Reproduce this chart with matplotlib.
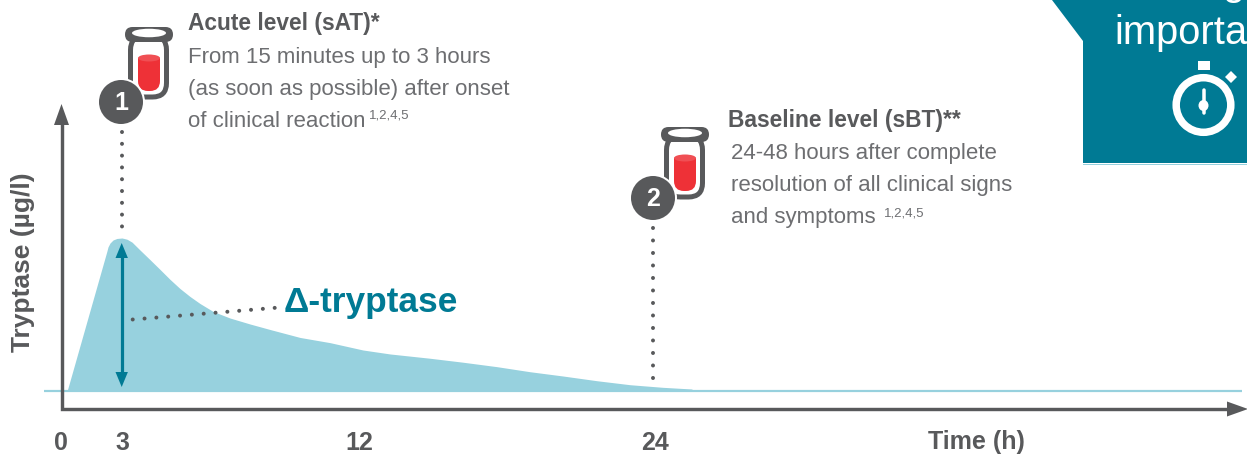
import numpy as np
import matplotlib
matplotlib.use("Agg")
import matplotlib.pyplot as plt
from matplotlib.patches import Circle, Ellipse, FancyBboxPatch, Polygon, Rectangle

plt.rcParams['font.family'] = ['Liberation Sans', 'DejaVu Sans']

# ---- data -------------------------------------------------------------
time_h = [0.3, 2.26, 2.31, 2.41, 2.56, 2.75, 3.0, 3.19, 3.38, 3.68, 4.06, 4.44, 4.82, 5.20, 5.58,
          5.96, 6.46, 7.10, 7.86, 8.62, 9.76, 10.9, 12.16, 13.26, 14.88, 16.22, 17.59, 18.93,
          20.27, 21.65, 22.99, 24.32, 25.5]
tryptase = [0, 91.5, 94.1, 96.7, 98.7, 99.7, 100, 99.2, 97.3, 92.2, 85.9, 79.5, 73.0, 67.0, 61.8,
            57.2, 52.0, 47.7, 43.8, 40.2, 35.0, 31.6, 26.8, 24.2, 21.4, 18.8, 15.9, 12.6,
            9.8, 6.7, 4.1, 2.4, 1.3]
tick_hours = [0, 3, 12, 24]
tick_labels = ['0', '3', '12', '24']
acute_lines = ['From 15 minutes up to 3 hours', '(as soon as possible) after onset', 'of clinical reaction']
base_lines = ['24-48 hours after complete', 'resolution of all clinical signs', 'and symptoms']

GRAY = '#58595b'
TXT = '#6d6e71'
BOLD = '#58595b'
TEAL = '#007a94'
AREA = '#97d1de'
RED = '#ee3137'
W, H = 1247, 454

fig = plt.figure(figsize=(W / 100, H / 100), dpi=100)

def forward(t):
    t = np.asarray(t, dtype=float)
    return np.where(t <= 3, 61 + t * 61 / 3,
                    np.where(t <= 12, 122 + (t - 3) * 237 / 9, 359 + (t - 12) * 296 / 12))
def inverse(p):
    p = np.asarray(p, dtype=float)
    return np.where(p <= 122, (p - 61) * 3 / 61,
                    np.where(p <= 359, 3 + (p - 122) * 9 / 237, 12 + (p - 359) * 12 / 296))

ax = fig.add_axes([0, 0, 1, 1])
ax.set_xscale('function', functions=(forward, inverse))
ax.set_xlim(float(inverse(0)), float(inverse(W)))
PX_PER_UNIT = 1.53
ax.set_ylim(-(H - 391) / PX_PER_UNIT, 391 / PX_PER_UNIT)
ax.axis('off')
ax.fill_between(time_h, tryptase, 0, color=AREA, lw=0, zorder=2)

px = fig.add_axes([0, 0, 1, 1], zorder=3)
px.set_xlim(0, W)
px.set_ylim(H, 0)
px.axis('off')
px.patch.set_alpha(0)

def lw(p):
    return p * 0.72

px.plot([44, 1242], [391, 391], color=AREA, lw=lw(2.2), solid_capstyle='butt')

px.plot([62, 62, 1232], [122, 409, 409], color=GRAY, lw=lw(3.4), solid_joinstyle='miter', solid_capstyle='butt')
px.add_patch(Polygon([[61.5, 104], [54, 125], [69, 125]], closed=True, fc=GRAY, ec='none'))
px.add_patch(Polygon([[1248, 409], [1227, 401.5], [1227, 416.5]], closed=True, fc=GRAY, ec='none'))

for h, lab in zip(tick_hours, tick_labels):
    px.text(float(forward(h)), 449.5, lab, ha='center', va='baseline', fontsize=18, fontweight='bold', color=BOLD)
px.text(976.5, 449.5, 'Time (h)', ha='center', va='baseline', fontsize=18, fontweight='bold', color=BOLD)
px.text(23, 262, 'Tryptase (µg/l)', rotation=90, ha='center', va='center', fontsize=19, fontweight='bold', color=BOLD)

# delta arrow
px.plot([121.7, 121.7], [256, 374], color=TEAL, lw=lw(3.2), solid_capstyle='butt')
px.add_patch(Polygon([[121.7, 243], [115.5, 258], [127.9, 258]], closed=True, fc=TEAL, ec='none'))
px.add_patch(Polygon([[121.7, 387], [115.5, 372], [127.9, 372]], closed=True, fc=TEAL, ec='none'))

def dotted(x0, y0, x1, y1, step):
    px.plot([x0, x1], [y0, y1], color=GRAY, lw=lw(4), dash_capstyle='round',
            linestyle=(0, (0.01, step / 4 - 0.01)))

dotted(121.7, 132.3, 121.7, 228, 11.8)
dotted(653, 378, 653, 226, 12.5)
dotted(132.7, 319.5, 275.5, 307.8, 11.87)

px.text(284, 312, 'Δ-tryptase', ha='left', va='baseline', fontsize=25.4, fontweight='bold', color=TEAL)

def vial(dx, dy, cx, cy, num):
    px.add_patch(FancyBboxPatch((dx + 130.5, dy + 36), 36, 61, boxstyle='round,pad=0,rounding_size=14',
                                fc='white', ec=GRAY, lw=lw(5), zorder=4))
    px.add_patch(FancyBboxPatch((dx + 138, dy + 62), 22, 29, boxstyle='round,pad=0,rounding_size=10',
                                fc=RED, ec='none', zorder=5))
    px.add_patch(Rectangle((dx + 138, dy + 58), 22, 16, fc=RED, ec='none', zorder=5))
    px.add_patch(Ellipse((dx + 149, dy + 58), 22, 7, fc='#f04f54', ec='none', zorder=5))
    px.add_patch(FancyBboxPatch((dx + 125, dy + 27), 48, 15, boxstyle='round,pad=0,rounding_size=7.5',
                                fc=GRAY, ec='none', zorder=6))
    px.add_patch(Ellipse((dx + 149, dy + 33), 34, 8.5, fc='white', ec='none', zorder=7))
    px.add_patch(Circle((cx, cy), 24, fc='white', ec='none', zorder=8))
    px.add_patch(Circle((cx, cy), 22, fc=GRAY, ec='none', zorder=9))
    px.text(cx, cy + 0.5, num, ha='center', va='center', fontsize=18, fontweight='bold', color='white', zorder=10)

vial(0, 0, 121, 102, '1')
vial(536, 100, 653, 198, '2')

px.text(188, 30, 'Acute level (sAT)*', fontsize=16.4, fontweight='bold', color=BOLD, va='baseline')
for y, s in zip([63, 95, 127], acute_lines):
    px.text(188, y, s, fontsize=16, color=TXT, va='baseline')
px.text(369, 119, '1,2,4,5', fontsize=9.5, color=TXT, va='baseline')

px.text(728, 127, 'Baseline level (sBT)**', fontsize=16.4, fontweight='bold', color=BOLD, va='baseline')
for y, s in zip([159, 191, 223], base_lines):
    px.text(731, y, s, fontsize=16, color=TXT, va='baseline')
px.text(884, 216, '1,2,4,5', fontsize=9.5, color=TXT, va='baseline')

px.add_patch(Polygon([[1052, 0], [1083, 41], [1083, 163], [W, 163], [W, 0]], closed=True, fc=TEAL, ec='none', zorder=1))
px.plot([1083, W], [163.5, 163.5], color=AREA, lw=lw(1), zorder=1)
px.text(1114, 43.5, 'importa', fontsize=28.7, color='white', va='baseline', zorder=2, clip_on=True)
px.text(1222, -5, 'g', fontsize=28.7, color='white', va='baseline', zorder=2, clip_on=True)

px.add_patch(Circle((1203.5, 105), 27.3, fc='none', ec='white', lw=lw(7.5), zorder=2))
px.add_patch(Rectangle((1198, 61), 12, 9, fc='white', ec='none', zorder=2))
px.add_patch(Polygon([[1231, 71], [1237, 77], [1231, 83], [1225, 77]], closed=True, fc='white', ec='none', zorder=2))
px.plot([1203.5, 1203.5], [90, 113], color='white', lw=lw(3.5), solid_capstyle='round', zorder=2)
px.add_patch(Ellipse((1203.5, 105.5), 10, 11, fc='white', ec='none', zorder=2))

fig.savefig('out.png', dpi=100)
